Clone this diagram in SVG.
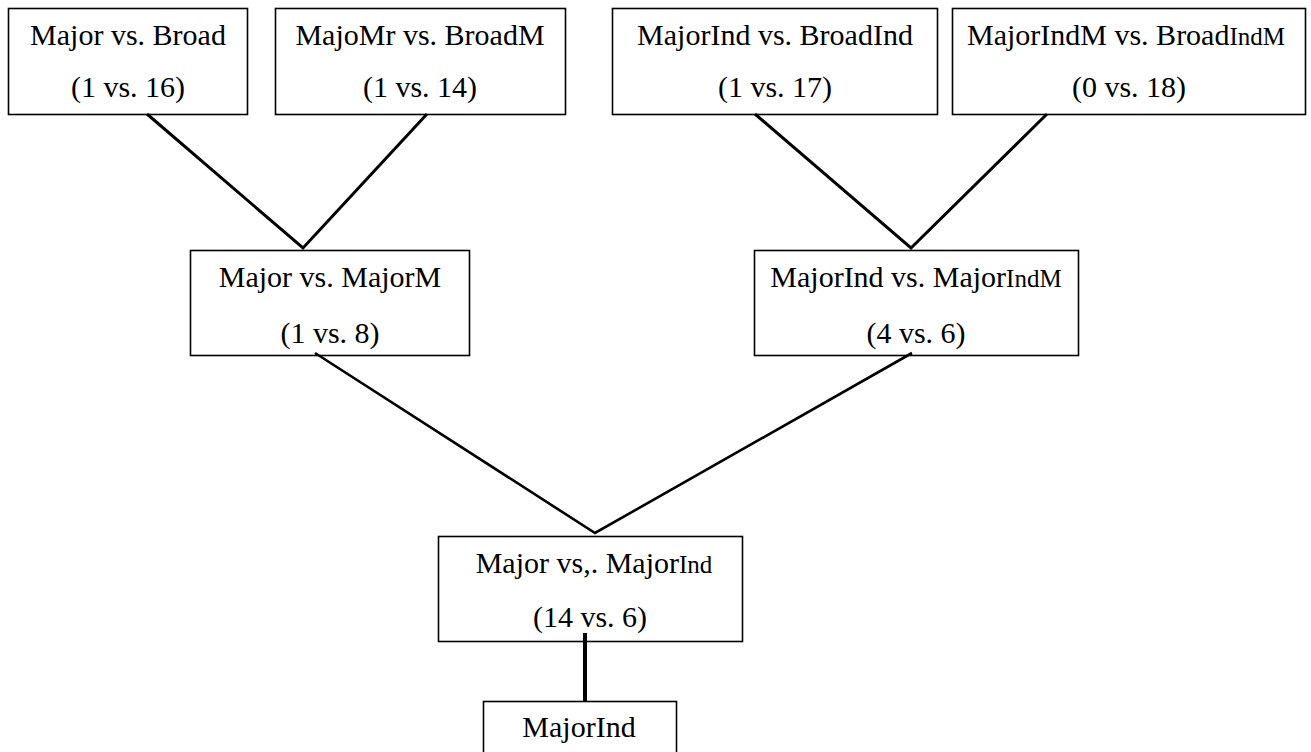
<svg xmlns="http://www.w3.org/2000/svg" width="1311" height="752" viewBox="0 0 1311 752">
<style>
.box{fill:#fff;stroke:#000;stroke-width:1.6}
.t{font-family:"Liberation Serif","Times New Roman",serif;font-size:30px;fill:#000;text-anchor:middle}
.s{font-size:25px}
.c{stroke:#000;fill:none;stroke-linecap:butt}
</style>
<rect width="1311" height="752" fill="#fff"/>
<g id="n1"><rect class="box" x="8.5" y="8.5" width="239" height="106"/>
<text class="t" x="128" y="45">Major vs. Broad</text><text class="t" x="128" y="97">(1 vs. 16)</text></g>
<g id="n2"><rect class="box" x="275.5" y="8.5" width="290" height="106"/>
<text class="t" x="420" y="45">MajoMr vs. BroadM</text><text class="t" x="420" y="97">(1 vs. 14)</text></g>
<g id="n3"><rect class="box" x="612.5" y="8.5" width="325" height="106"/>
<text class="t" x="775" y="45">MajorInd vs. BroadInd</text><text class="t" x="775" y="97">(1 vs. 17)</text></g>
<g id="n4"><rect class="box" x="952.5" y="8.5" width="353" height="106"/>
<text class="t" x="1126" y="45">MajorIndM vs. Broad<tspan class="s">IndM</tspan></text><text class="t" x="1129" y="97">(0 vs. 18)</text></g>
<g id="n5"><rect class="box" x="190.5" y="250.5" width="279" height="105"/>
<text class="t" x="330" y="287">Major vs. MajorM</text><text class="t" x="330" y="343">(1 vs. 8)</text></g>
<g id="n6"><rect class="box" x="754.5" y="250.5" width="324" height="105"/>
<text class="t" x="916" y="287">MajorInd vs. Major<tspan class="s">IndM</tspan></text><text class="t" x="916" y="343">(4 vs. 6)</text></g>
<g id="n7"><rect class="box" x="438.5" y="536.5" width="304" height="105"/>
<text class="t" x="594" y="573">Major vs,. Major<tspan class="s">Ind</tspan></text><text class="t" x="590" y="627">(14 vs. 6)</text></g>
<g id="n8"><rect class="box" x="483.5" y="701.5" width="193" height="60"/>
<text class="t" x="579" y="737">MajorInd</text></g>
<g id="connectors">
<path class="c" stroke-width="3" d="M147 114 L303 248 L427 114"/>
<path class="c" stroke-width="3" d="M755 114 L911 248 L1047 114"/>
<path class="c" stroke-width="2.6" d="M315 353 L595 533 L912 353"/>
<path class="c" stroke-width="4" d="M585 633 L585 701"/>
</g>
</svg>
